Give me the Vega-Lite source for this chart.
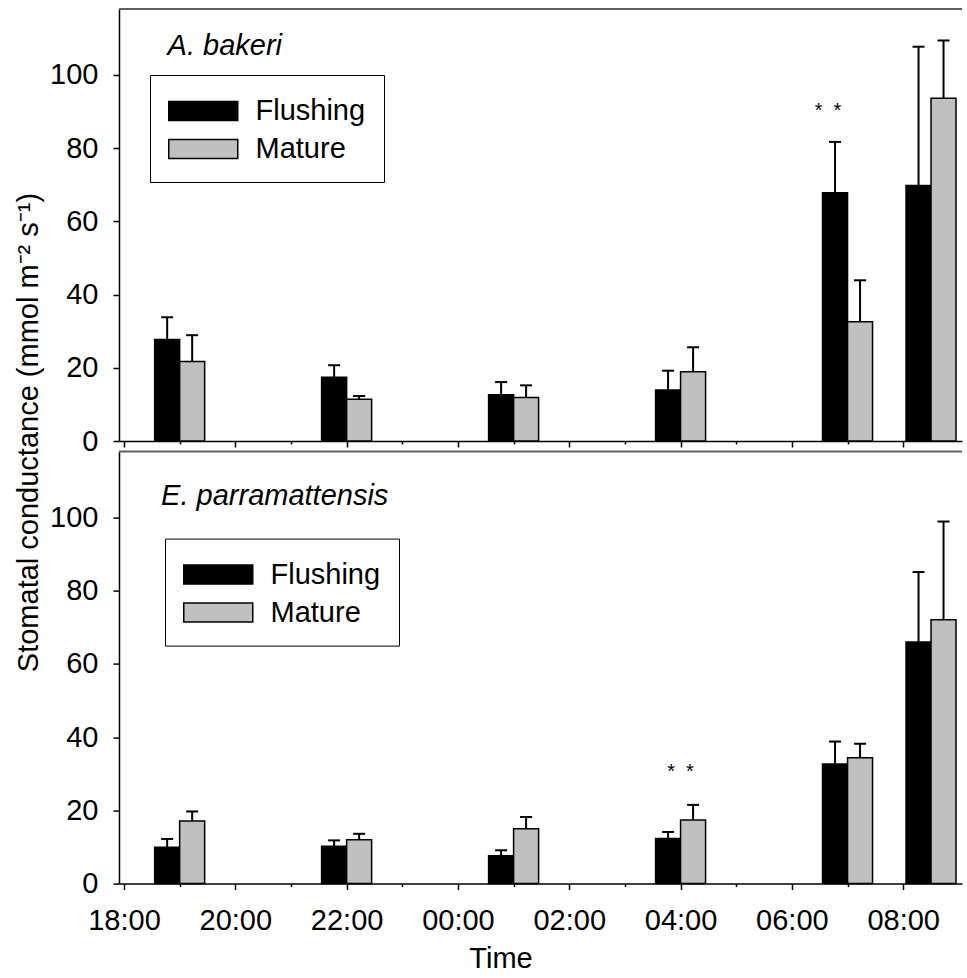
{
  "$schema": "https://vega.github.io/schema/vega-lite/v6.json",
  "padding": {"left": 13, "top": 8, "right": 0, "bottom": 0},
  "background": "white",
  "config": {
    "view": {"stroke": null},
    "font": "Liberation Sans",
    "axis": {"domainColor": "black", "tickColor": "black", "labelColor": "black", "titleColor": "black", "labelFont": "Liberation Sans", "titleFont": "Liberation Sans", "labelFontSize": 29, "titleFontSize": 29, "titleFontWeight": "normal", "grid": false, "domainWidth": 1.5, "tickWidth": 1.5},
    "legend": {"orient": "none", "title": null, "symbolType": "M-1,-0.55L3,-0.55L3,0.55L-1,0.55Z", "symbolSize": 1190, "symbolStrokeColor": "black", "symbolStrokeWidth": 1.5, "labelFontSize": 29, "labelFont": "Liberation Sans", "labelColor": "black", "labelOffset": 51.5, "rowPadding": 5, "padding": 18, "strokeColor": "black", "fillColor": "white"}
  },
  "datasets": {
    "gs": [
      {"species": "A. bakeri", "time": "2000-01-01T19:00", "leaf": "Flushing", "mean": 27.7, "upper": 33.8},
      {"species": "A. bakeri", "time": "2000-01-01T19:00", "leaf": "Mature", "mean": 21.7, "upper": 28.9},
      {"species": "A. bakeri", "time": "2000-01-01T22:00", "leaf": "Flushing", "mean": 17.4, "upper": 20.7},
      {"species": "A. bakeri", "time": "2000-01-01T22:00", "leaf": "Mature", "mean": 11.4, "upper": 12.3},
      {"species": "A. bakeri", "time": "2000-01-02T01:00", "leaf": "Flushing", "mean": 12.6, "upper": 16.1},
      {"species": "A. bakeri", "time": "2000-01-02T01:00", "leaf": "Mature", "mean": 11.9, "upper": 15.2},
      {"species": "A. bakeri", "time": "2000-01-02T04:00", "leaf": "Flushing", "mean": 13.9, "upper": 19.2},
      {"species": "A. bakeri", "time": "2000-01-02T04:00", "leaf": "Mature", "mean": 18.9, "upper": 25.6},
      {"species": "A. bakeri", "time": "2000-01-02T07:00", "leaf": "Flushing", "mean": 67.8, "upper": 81.7},
      {"species": "A. bakeri", "time": "2000-01-02T07:00", "leaf": "Mature", "mean": 32.6, "upper": 43.9},
      {"species": "A. bakeri", "time": "2000-01-02T08:30", "leaf": "Flushing", "mean": 69.8, "upper": 107.7},
      {"species": "A. bakeri", "time": "2000-01-02T08:30", "leaf": "Mature", "mean": 93.6, "upper": 109.4},
      {"species": "E. parramattensis", "time": "2000-01-01T19:00", "leaf": "Flushing", "mean": 9.9, "upper": 12.2},
      {"species": "E. parramattensis", "time": "2000-01-01T19:00", "leaf": "Mature", "mean": 17.1, "upper": 19.7},
      {"species": "E. parramattensis", "time": "2000-01-01T22:00", "leaf": "Flushing", "mean": 10.2, "upper": 11.8},
      {"species": "E. parramattensis", "time": "2000-01-01T22:00", "leaf": "Mature", "mean": 12.0, "upper": 13.6},
      {"species": "E. parramattensis", "time": "2000-01-02T01:00", "leaf": "Flushing", "mean": 7.6, "upper": 9.1},
      {"species": "E. parramattensis", "time": "2000-01-02T01:00", "leaf": "Mature", "mean": 15.0, "upper": 18.2},
      {"species": "E. parramattensis", "time": "2000-01-02T04:00", "leaf": "Flushing", "mean": 12.3, "upper": 14.1},
      {"species": "E. parramattensis", "time": "2000-01-02T04:00", "leaf": "Mature", "mean": 17.4, "upper": 21.5},
      {"species": "E. parramattensis", "time": "2000-01-02T07:00", "leaf": "Flushing", "mean": 32.7, "upper": 38.8},
      {"species": "E. parramattensis", "time": "2000-01-02T07:00", "leaf": "Mature", "mean": 34.4, "upper": 38.2},
      {"species": "E. parramattensis", "time": "2000-01-02T08:30", "leaf": "Flushing", "mean": 66.0, "upper": 85.1},
      {"species": "E. parramattensis", "time": "2000-01-02T08:30", "leaf": "Mature", "mean": 72.1, "upper": 98.9}
    ]
  },
  "spacing": 10.6,
  "bounds": "flush",
  "resolve": {"scale": {"color": "independent"}, "legend": {"color": "independent"}},
  "vconcat": [
    {
      "width": 843,
      "height": 432,
      "layer": [
        {"data": {"name": "gs"},
          "transform": [{"filter": "datum.species == 'A. bakeri' && datum.leaf == 'Flushing'"}],
          "mark": {"type": "bar", "width": 25, "xOffset": -12.5, "stroke": "black", "strokeWidth": 1.5},
          "encoding": {
            "x": {"field": "time", "type": "temporal",
              "scale": {"domain": [{"year": 2000, "month": 1, "date": 1, "hours": 18}, {"year": 2000, "month": 1, "date": 2, "hours": 8, "minutes": 58}], "nice": false},
              "axis": {"title": null, "labels": false, "format": "%H:%M",
                "values": [{"year": 2000, "month": 1, "date": 1, "hours": 18}, {"year": 2000, "month": 1, "date": 1, "hours": 19}, {"year": 2000, "month": 1, "date": 1, "hours": 20}, {"year": 2000, "month": 1, "date": 1, "hours": 21}, {"year": 2000, "month": 1, "date": 1, "hours": 22}, {"year": 2000, "month": 1, "date": 1, "hours": 23}, {"year": 2000, "month": 1, "date": 2, "hours": 0}, {"year": 2000, "month": 1, "date": 2, "hours": 1}, {"year": 2000, "month": 1, "date": 2, "hours": 2}, {"year": 2000, "month": 1, "date": 2, "hours": 3}, {"year": 2000, "month": 1, "date": 2, "hours": 4}, {"year": 2000, "month": 1, "date": 2, "hours": 5}, {"year": 2000, "month": 1, "date": 2, "hours": 6}, {"year": 2000, "month": 1, "date": 2, "hours": 7}, {"year": 2000, "month": 1, "date": 2, "hours": 8}],
                "tickSize": {"condition": {"test": "hours(datum.value) % 2 == 0", "value": 6}, "value": 3}}},
            "y": {"field": "mean", "type": "quantitative",
              "scale": {"domain": [0, 118], "nice": false, "zero": true},
              "axis": {"values": [0, 20, 40, 60, 80, 100], "tickSize": 6, "labelPadding": 15,
                "title": "Stomatal conductance (mmol m⁻² s⁻¹)", "titleAngle": 270, "titleAlign": "center", "titleBaseline": "alphabetic", "titleX": -82, "titleY": 423}},
            "color": {"field": "leaf", "type": "nominal", "scale": {"domain": ["Flushing", "Mature"], "range": ["#000000", "#c0c0c0"]}, "legend": {"legendX": 31, "legendY": 66}}}},
        {"data": {"name": "gs"},
          "transform": [{"filter": "datum.species == 'A. bakeri' && datum.leaf == 'Mature'"}],
          "mark": {"type": "bar", "width": 25, "xOffset": 12.5, "stroke": "black", "strokeWidth": 1.5},
          "encoding": {"x": {"field": "time", "type": "temporal"}, "y": {"field": "mean", "type": "quantitative"},
            "color": {"field": "leaf", "type": "nominal", "scale": {"domain": ["Flushing", "Mature"], "range": ["#000000", "#c0c0c0"]}, "legend": {"legendX": 31, "legendY": 66}}}},
        {"data": {"name": "gs"},
          "transform": [{"filter": "datum.species == 'A. bakeri' && datum.leaf == 'Flushing'"}],
          "mark": {"type": "rule", "xOffset": -12.5, "color": "black", "strokeWidth": 2},
          "encoding": {"x": {"field": "time", "type": "temporal"}, "y": {"field": "mean", "type": "quantitative"}, "y2": {"field": "upper"}}},
        {"data": {"name": "gs"},
          "transform": [{"filter": "datum.species == 'A. bakeri' && datum.leaf == 'Mature'"}],
          "mark": {"type": "rule", "xOffset": 12.5, "color": "black", "strokeWidth": 2},
          "encoding": {"x": {"field": "time", "type": "temporal"}, "y": {"field": "mean", "type": "quantitative"}, "y2": {"field": "upper"}}},
        {"data": {"name": "gs"},
          "transform": [{"filter": "datum.species == 'A. bakeri' && datum.leaf == 'Flushing'"}],
          "mark": {"type": "tick", "orient": "horizontal", "size": 12, "thickness": 2, "xOffset": -12.5, "color": "black", "opacity": 1},
          "encoding": {"x": {"field": "time", "type": "temporal"}, "y": {"field": "upper", "type": "quantitative"}}},
        {"data": {"name": "gs"},
          "transform": [{"filter": "datum.species == 'A. bakeri' && datum.leaf == 'Mature'"}],
          "mark": {"type": "tick", "orient": "horizontal", "size": 12, "thickness": 2, "xOffset": 12.5, "color": "black", "opacity": 1},
          "encoding": {"x": {"field": "time", "type": "temporal"}, "y": {"field": "upper", "type": "quantitative"}}},
        {"data": {"values": [{"edge": "top"}]},
          "mark": {"type": "rule", "color": "#606060", "strokeWidth": 2},
          "encoding": {"y": {"datum": 118, "type": "quantitative"}}},
        {"data": {"values": [{"label": "A. bakeri"}]},
          "mark": {"type": "text", "fontSize": 29, "fontStyle": "italic", "align": "left", "baseline": "alphabetic", "font": "Liberation Sans", "color": "black"},
          "encoding": {"text": {"field": "label"}, "x": {"datum": {"year": 2000, "month": 1, "date": 1, "hours": 18, "minutes": 47}, "type": "temporal"}, "y": {"datum": 105.5, "type": "quantitative"}}},
        {"data": {"values": [{"label": "*\u00a0\u00a0*"}]},
          "mark": {"type": "text", "fontSize": 20, "align": "center", "baseline": "alphabetic", "font": "Liberation Sans", "color": "black"},
          "encoding": {"text": {"field": "label"}, "x": {"datum": {"year": 2000, "month": 1, "date": 2, "hours": 6, "minutes": 39}, "type": "temporal"}, "y": {"datum": 88.6, "type": "quantitative"}}}
      ]
    },
    {
      "width": 843,
      "height": 432,
      "layer": [
        {"data": {"name": "gs"},
          "transform": [{"filter": "datum.species == 'E. parramattensis' && datum.leaf == 'Flushing'"}],
          "mark": {"type": "bar", "width": 25, "xOffset": -12.5, "stroke": "black", "strokeWidth": 1.5},
          "encoding": {
            "x": {"field": "time", "type": "temporal",
              "scale": {"domain": [{"year": 2000, "month": 1, "date": 1, "hours": 18}, {"year": 2000, "month": 1, "date": 2, "hours": 8, "minutes": 58}], "nice": false},
              "axis": {"title": "Time", "format": "%H:%M", "labelExpr": "hours(datum.value) % 2 == 0 ? datum.label : ''", "labelOverlap": false, "labelFlush": false, "labelBound": false, "labelPadding": 17,
                "titleX": 381.5, "titleY": 83.6, "titleBaseline": "alphabetic", "titleAlign": "center", "titleAnchor": null,
                "values": [{"year": 2000, "month": 1, "date": 1, "hours": 18}, {"year": 2000, "month": 1, "date": 1, "hours": 19}, {"year": 2000, "month": 1, "date": 1, "hours": 20}, {"year": 2000, "month": 1, "date": 1, "hours": 21}, {"year": 2000, "month": 1, "date": 1, "hours": 22}, {"year": 2000, "month": 1, "date": 1, "hours": 23}, {"year": 2000, "month": 1, "date": 2, "hours": 0}, {"year": 2000, "month": 1, "date": 2, "hours": 1}, {"year": 2000, "month": 1, "date": 2, "hours": 2}, {"year": 2000, "month": 1, "date": 2, "hours": 3}, {"year": 2000, "month": 1, "date": 2, "hours": 4}, {"year": 2000, "month": 1, "date": 2, "hours": 5}, {"year": 2000, "month": 1, "date": 2, "hours": 6}, {"year": 2000, "month": 1, "date": 2, "hours": 7}, {"year": 2000, "month": 1, "date": 2, "hours": 8}],
                "tickSize": {"condition": {"test": "hours(datum.value) % 2 == 0", "value": 6}, "value": 3}}},
            "y": {"field": "mean", "type": "quantitative",
              "scale": {"domain": [0, 118], "nice": false, "zero": true},
              "axis": {"values": [0, 20, 40, 60, 80, 100], "tickSize": 6, "labelPadding": 15, "title": null}},
            "color": {"field": "leaf", "type": "nominal", "scale": {"domain": ["Flushing", "Mature"], "range": ["#000000", "#c0c0c0"]}, "legend": {"legendX": 46, "legendY": 87}}}},
        {"data": {"name": "gs"},
          "transform": [{"filter": "datum.species == 'E. parramattensis' && datum.leaf == 'Mature'"}],
          "mark": {"type": "bar", "width": 25, "xOffset": 12.5, "stroke": "black", "strokeWidth": 1.5},
          "encoding": {"x": {"field": "time", "type": "temporal"}, "y": {"field": "mean", "type": "quantitative"},
            "color": {"field": "leaf", "type": "nominal", "scale": {"domain": ["Flushing", "Mature"], "range": ["#000000", "#c0c0c0"]}, "legend": {"legendX": 46, "legendY": 87}}}},
        {"data": {"name": "gs"},
          "transform": [{"filter": "datum.species == 'E. parramattensis' && datum.leaf == 'Flushing'"}],
          "mark": {"type": "rule", "xOffset": -12.5, "color": "black", "strokeWidth": 2},
          "encoding": {"x": {"field": "time", "type": "temporal"}, "y": {"field": "mean", "type": "quantitative"}, "y2": {"field": "upper"}}},
        {"data": {"name": "gs"},
          "transform": [{"filter": "datum.species == 'E. parramattensis' && datum.leaf == 'Mature'"}],
          "mark": {"type": "rule", "xOffset": 12.5, "color": "black", "strokeWidth": 2},
          "encoding": {"x": {"field": "time", "type": "temporal"}, "y": {"field": "mean", "type": "quantitative"}, "y2": {"field": "upper"}}},
        {"data": {"name": "gs"},
          "transform": [{"filter": "datum.species == 'E. parramattensis' && datum.leaf == 'Flushing'"}],
          "mark": {"type": "tick", "orient": "horizontal", "size": 12, "thickness": 2, "xOffset": -12.5, "color": "black", "opacity": 1},
          "encoding": {"x": {"field": "time", "type": "temporal"}, "y": {"field": "upper", "type": "quantitative"}}},
        {"data": {"name": "gs"},
          "transform": [{"filter": "datum.species == 'E. parramattensis' && datum.leaf == 'Mature'"}],
          "mark": {"type": "tick", "orient": "horizontal", "size": 12, "thickness": 2, "xOffset": 12.5, "color": "black", "opacity": 1},
          "encoding": {"x": {"field": "time", "type": "temporal"}, "y": {"field": "upper", "type": "quantitative"}}},
        {"data": {"values": [{"edge": "top"}]},
          "mark": {"type": "rule", "color": "#606060", "strokeWidth": 2},
          "encoding": {"y": {"datum": 118, "type": "quantitative"}}},
        {"data": {"values": [{"label": "E. parramattensis"}]},
          "mark": {"type": "text", "fontSize": 29, "fontStyle": "italic", "align": "left", "baseline": "alphabetic", "font": "Liberation Sans", "color": "black"},
          "encoding": {"text": {"field": "label"}, "x": {"datum": {"year": 2000, "month": 1, "date": 1, "hours": 18, "minutes": 40}, "type": "temporal"}, "y": {"datum": 103.3, "type": "quantitative"}}},
        {"data": {"values": [{"label": "*\u00a0\u00a0*"}]},
          "mark": {"type": "text", "fontSize": 20, "align": "center", "baseline": "alphabetic", "font": "Liberation Sans", "color": "black"},
          "encoding": {"text": {"field": "label"}, "x": {"datum": {"year": 2000, "month": 1, "date": 2, "hours": 4, "minutes": 0}, "type": "temporal"}, "y": {"datum": 28.9, "type": "quantitative"}}}
      ]
    }
  ]
}
